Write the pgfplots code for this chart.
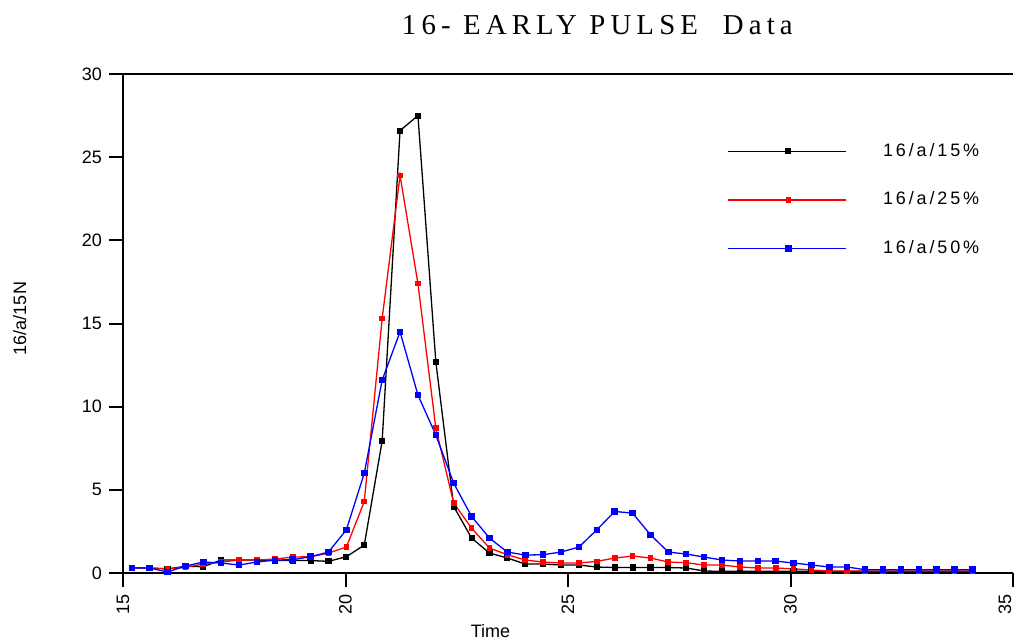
\documentclass[border=0pt]{standalone}
\usepackage{fontspec}
\setmainfont{Liberation Sans}
\newfontfamily\titlefont[LetterSpace=18]{Liberation Serif}
\newfontfamily\legfont[LetterSpace=16]{Liberation Sans}
\usepackage{pgfplots}
\usepackage{pgfplotstable}
\pgfplotsset{compat=1.18}

\pgfplotstableread{
i a b c
0 0.32 0.30 0.30
1 0.30 0.30 0.30
2 0.25 0.25 0.06
3 0.40 0.35 0.42
4 0.38 0.54 0.66
5 0.78 0.66 0.60
6 0.78 0.78 0.48
7 0.78 0.78 0.66
8 0.75 0.84 0.78
9 0.75 0.96 0.80
10 0.75 0.98 0.98
11 0.70 1.20 1.26
12 0.98 1.56 2.60
13 1.68 4.30 6.00
14 7.94 15.30 11.60
15 26.60 23.90 14.50
16 27.50 17.40 10.70
17 12.70 8.70 8.30
18 4.00 4.20 5.40
19 2.10 2.70 3.40
20 1.20 1.50 2.10
21 0.90 1.10 1.26
22 0.54 0.78 1.08
23 0.54 0.66 1.10
24 0.48 0.60 1.26
25 0.48 0.60 1.56
26 0.36 0.70 2.60
27 0.33 0.90 3.70
28 0.33 1.02 3.60
29 0.33 0.90 2.30
30 0.33 0.66 1.26
31 0.30 0.62 1.14
32 0.12 0.48 0.96
33 0.10 0.48 0.78
34 0.10 0.36 0.72
35 0.10 0.30 0.72
36 0.10 0.30 0.72
37 0.10 0.25 0.60
38 0.10 0.18 0.48
39 0.10 0.12 0.36
40 0.10 0.12 0.36
41 0.10 0.12 0.20
42 0.10 0.12 0.20
43 0.10 0.12 0.20
44 0.10 0.12 0.20
45 0.10 0.12 0.20
46 0.10 0.12 0.20
47 0.10 0.12 0.20
}\datatable

\begin{document}
\begin{tikzpicture}
\begin{axis}[
  scale only axis, width=445pt, height=249.5pt,
  xmin=-0.49, xmax=49.27, ymin=0, ymax=30,
  axis x line=box, axis y line=left,
  axis line style={-, line width=1pt},
  xtick pos=bottom, ytick pos=left,
  xtick={-0.49,11.95,24.39,36.83,49.27},
  xticklabels={15,20,25,30,\smash{\raisebox{1pt}{35}}},
  ytick={0,5,10,15,20,25,30},
  tick align=outside, major tick length=7pt,
  tick style={line width=1pt, black},
  x tick label style={rotate=90, anchor=east, font=\small},
  y tick label style={font=\small},
  /pgf/number format/assume math mode=true,
  xlabel={Time},
  xlabel style={at={(axis description cs:0.413,0)}, anchor=base, yshift=-32pt, font=\small},
  ylabel={16/a/15N},
  ylabel style={at={(axis description cs:-0.116,0.51)}, anchor=center, font=\small},
  title={\titlefont 16- EARLY PULSE\ \ Data},
  title style={at={(axis description cs:0.533,1)}, anchor=base, yshift=14pt, font=\Large},
  legend style={draw=none, fill=none, at={(axis description cs:0.679,0.87)}, anchor=north west,
    font=\small\legfont, row sep=12.3pt, inner sep=0pt, nodes={inner xsep=10pt}},
  legend cell align=left,
  /tikz/every odd column/.append style={column sep=8pt},
  legend image code/.code={\draw[mark repeat=2,mark phase=2] plot coordinates {(0pt,0pt) (30pt,0pt) (59pt,0pt)};},
]
\addplot[black, line width=0.65pt, mark=square*, mark size=1.2pt] table[x=i,y=a] {\datatable};
\addlegendentry{16/a/15\%}
\addplot[red, line width=0.65pt, mark=square*, mark size=1.1pt] table[x=i,y=b] {\datatable};
\addlegendentry{16/a/25\%}
\addplot[blue, line width=0.65pt, mark=square*, mark size=1.3pt] table[x=i,y=c] {\datatable};
\addlegendentry{16/a/50\%}
\end{axis}
\pgfresetboundingbox
\useasboundingbox (-61.5pt,-33pt) rectangle (446.5pt,286.5pt);
\end{tikzpicture}
\end{document}
